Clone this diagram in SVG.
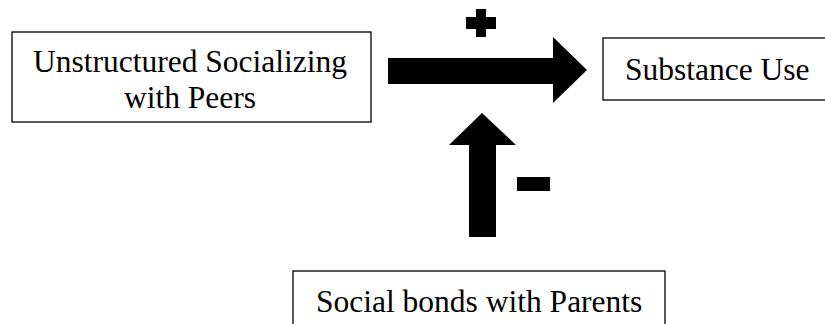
<svg xmlns="http://www.w3.org/2000/svg" width="825" height="324" viewBox="0 0 825 324">
<style>
.box{fill:#fff;stroke:#000;stroke-width:1.3}
.t{font-family:'Liberation Serif',serif;font-size:31.5px;fill:#000}
.c{text-anchor:middle}
.arr{fill:#000}
</style>
<rect width="825" height="324" fill="#fff"/>
<g id="node-peers">
<rect class="box" x="12" y="32" width="359" height="90"/>
<text class="t c" x="190" y="72">Unstructured Socializing</text>
<text class="t c" x="190" y="108">with Peers</text>
</g>
<g id="node-substance">
<rect class="box" x="603" y="38" width="224" height="62"/>
<text class="t" x="625" y="80">Substance Use</text>
</g>
<g id="node-parents">
<rect class="box" x="293" y="271" width="372" height="60"/>
<text class="t" x="316" y="312">Social bonds with Parents</text>
</g>
<g id="connectors">
<polygon class="arr" points="388,58 553,58 553,37 587,70 553,103 553,84 388,84"/>
<polygon class="arr" points="469,237 469,145 449,145 482,113 516,145 496,145 496,237"/>
<path class="arr" d="M476,9h10v8h10v12h-10v8h-10v-8h-10v-12h10z"/>
<rect class="arr" x="517" y="177" width="33" height="14"/>
</g>
</svg>
